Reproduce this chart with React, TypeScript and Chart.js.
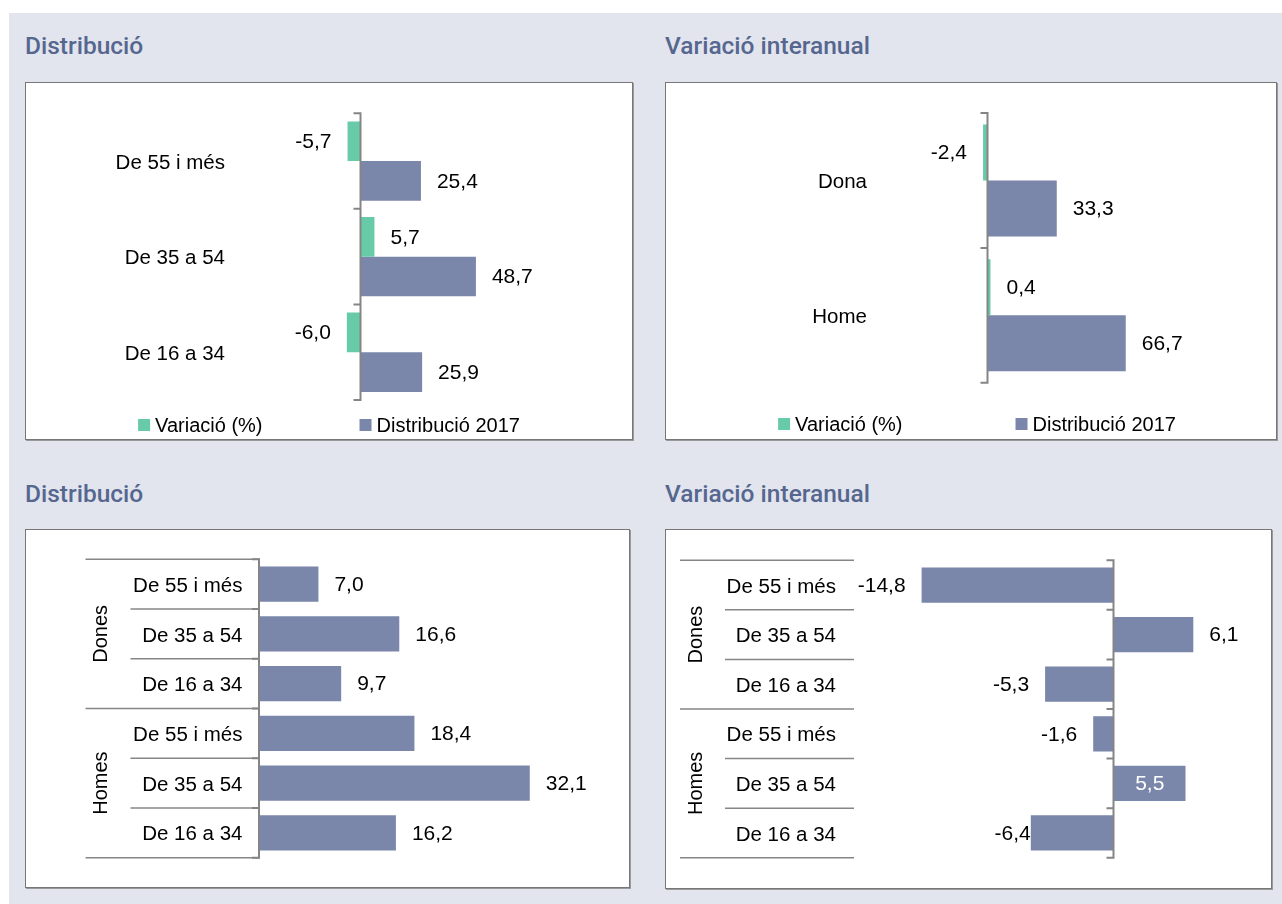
import React, { useEffect, useRef } from 'react';
import { Chart, registerables } from 'chart.js';

Chart.register(...registerables);

// ---------- data ----------
const seriesNames = ['Variació (%)', 'Distribució 2017'];

const ageCategories = ['De 55 i més', 'De 35 a 54', 'De 16 a 34'];
const ageVariacio = [-5.7, 5.7, -6.0];
const ageDistribucio = [25.4, 48.7, 25.9];

const sexCategories = ['Dona', 'Home'];
const sexVariacio = [-2.4, 0.4];
const sexDistribucio = [33.3, 66.7];

const groupNames = ['Dones', 'Homes'];
const groupSubCategories = ['De 55 i més', 'De 35 a 54', 'De 16 a 34', 'De 55 i més', 'De 35 a 54', 'De 16 a 34'];
const groupDistribucio = [7.0, 16.6, 9.7, 18.4, 32.1, 16.2];
const groupVariacio = [-14.8, 6.1, -5.3, -1.6, 5.5, -6.4];
const groupVariacioLabelModes = ['out', 'out', 'out', 'out', 'in', 'edge'];

// ---------- styles ----------
const FONT = '"Liberation Sans", Arial, sans-serif';
const GREEN = '#68cba8';
const SLATE = '#7a86aa';
const AXIS = '#858585';
const TABLE_LINE = '#868686';
const BG = '#e2e5ee';
const TITLE_COLOR = '#56678f';

type DS = { label: string; data: number[]; color: string };
type PanelCfg = {
  labels: string[];
  datasets: DS[];
  min: number;
  max: number;
  pad: { top: number; right: number; bottom: number };
  axisWidth: number;
  tickPadding: number;
  catPct: number;
  groups?: string[];
  groupSize?: number;
  modes?: string[];
  legend?: { y: number; gap: number; shift: number };
};

function fmt(v: number) {
  return v.toFixed(1).replace('.', ',');
}

function decorPlugin(cfg: PanelCfg) {
  return {
    id: 'decor',
    afterDatasetsDraw(chart: any) {
      const ctx = chart.ctx as CanvasRenderingContext2D;
      const xs = chart.scales.x;
      const ys = chart.scales.y;
      const n = chart.data.labels.length;
      const band = (ys.bottom - ys.top) / n;
      const left = chart.chartArea.left;
      ctx.save();
      ctx.lineCap = 'butt';

      if (cfg.groups) {
        const gs = cfg.groupSize || 3;
        ctx.strokeStyle = TABLE_LINE;
        ctx.lineWidth = 1.5;
        for (let k = 0; k <= n; k++) {
          const yy = ys.top + k * band;
          const start = left - (k % gs === 0 ? 174 : 129);
          ctx.beginPath();
          ctx.moveTo(start, yy);
          ctx.lineTo(left, yy);
          ctx.stroke();
        }
        ctx.fillStyle = '#000';
        ctx.font = `20px ${FONT}`;
        ctx.textAlign = 'center';
        ctx.textBaseline = 'middle';
        cfg.groups.forEach((g, gi) => {
          const cy = ys.top + (gi * gs + gs / 2) * band;
          ctx.save();
          ctx.translate(left - 158, cy);
          ctx.rotate(-Math.PI / 2);
          ctx.fillText(g, 0, 0);
          ctx.restore();
        });
      }

      // zero axis with ticks at category boundaries
      const x0 = xs.getPixelForValue(0) - 0.5;
      ctx.strokeStyle = AXIS;
      ctx.lineWidth = 2;
      ctx.beginPath();
      ctx.moveTo(x0, ys.top - 1);
      ctx.lineTo(x0, ys.bottom + 1);
      for (let k = 0; k <= n; k++) {
        const yy = ys.top + k * band;
        ctx.moveTo(x0 - 7, yy);
        ctx.lineTo(x0, yy);
      }
      ctx.stroke();

      // value labels
      ctx.font = `21px ${FONT}`;
      ctx.textBaseline = 'middle';
      chart.data.datasets.forEach((ds: any, di: number) => {
        const meta = chart.getDatasetMeta(di);
        meta.data.forEach((bar: any, i: number) => {
          const v = ds.data[i] as number;
          const mode = cfg.modes ? cfg.modes[i] : 'out';
          const p = bar.getProps(['x', 'base', 'y'], true);
          let tx: number;
          let align: CanvasTextAlign;
          let color = '#000';
          if (mode === 'in') {
            tx = (p.x + p.base) / 2;
            align = 'center';
            color = '#ffffff';
          } else if (mode === 'edge') {
            tx = p.x;
            align = v < 0 ? 'right' : 'left';
          } else {
            tx = v < 0 ? p.x - 16 : p.x + 16;
            align = v < 0 ? 'right' : 'left';
          }
          ctx.fillStyle = color;
          ctx.textAlign = align;
          ctx.fillText(fmt(v), tx, p.y + 1);
        });
      });

      // legend
      if (cfg.legend) {
        const lg = cfg.legend;
        ctx.font = `20px ${FONT}`;
        ctx.textBaseline = 'middle';
        ctx.textAlign = 'left';
        const items = chart.data.datasets.map((ds: any) => ({
          label: ds.label as string,
          color: ds.backgroundColor as string,
          w: 12 + 5 + ctx.measureText(ds.label).width,
        }));
        const total = items.reduce((s: number, it: any) => s + it.w, 0) + lg.gap * (items.length - 1);
        let x = chart.width / 2 - total / 2 + lg.shift;
        items.forEach((it: any) => {
          ctx.fillStyle = it.color;
          ctx.fillRect(x, lg.y - 6, 12, 12);
          ctx.fillStyle = '#000';
          ctx.fillText(it.label, x + 17, lg.y + 1);
          x += it.w + lg.gap;
        });
      }
      ctx.restore();
    },
  };
}

function ChartBox(props: { left: number; top: number; w: number; h: number; cfg: PanelCfg }) {
  const ref = useRef<HTMLCanvasElement | null>(null);
  const { left, top, w, h, cfg } = props;
  useEffect(() => {
    if (!ref.current) return;
    const chart = new Chart(ref.current, {
      type: 'bar',
      data: {
        labels: cfg.labels,
        datasets: cfg.datasets.map((d) => ({
          label: d.label,
          data: d.data,
          backgroundColor: d.color,
          borderWidth: 0,
          categoryPercentage: cfg.catPct,
          barPercentage: 1,
          minBarLength: 2.5,
        })),
      },
      options: {
        indexAxis: 'y',
        responsive: false,
        animation: false,
        devicePixelRatio: 1,
        layout: { padding: { left: 0, top: cfg.pad.top, right: cfg.pad.right, bottom: cfg.pad.bottom } },
        plugins: {
          legend: { display: false },
          tooltip: { enabled: false },
        },
        scales: {
          x: { display: false, min: cfg.min, max: cfg.max },
          y: {
            position: 'left',
            grid: { display: false, drawTicks: false },
            border: { display: false },
            ticks: {
              padding: cfg.tickPadding,
              labelOffset: 2,
              color: '#000',
              autoSkip: false,
              crossAlign: 'near',
              font: { family: FONT, size: 20.5 },
            },
            afterFit: (s: any) => {
              s.width = cfg.axisWidth;
            },
          },
        },
      } as any,
      plugins: [decorPlugin(cfg)],
    });
    return () => chart.destroy();
  }, []);
  return (
    <div
      style={{
        position: 'absolute',
        left,
        top,
        width: w,
        height: h,
        boxSizing: 'border-box',
        background: '#fff',
        border: '1px solid #777',
        boxShadow: '1px 1px 0 #9a9a9a',
      }}
    >
      <canvas ref={ref} width={w - 2} height={h - 2} style={{ display: 'block', width: w - 2, height: h - 2 }} />
    </div>
  );
}

const titleStyle = (left: number, top: number): React.CSSProperties => ({
  position: 'absolute',
  left,
  top,
  margin: 0,
  fontFamily: 'Roboto, "Liberation Sans", sans-serif',
  fontWeight: 500,
  fontSize: 24.5,
  lineHeight: '25px',
  color: TITLE_COLOR,
  whiteSpace: 'nowrap',
});

export default function App() {
  const tl: PanelCfg = {
    labels: ageCategories,
    datasets: [
      { label: seriesNames[0], data: ageVariacio, color: GREEN },
      { label: seriesNames[1], data: ageDistribucio, color: SLATE },
    ],
    min: -50,
    max: 100,
    pad: { top: 29, right: 35, bottom: 39 },
    axisWidth: 217,
    tickPadding: 18,
    catPct: 0.83,
    legend: { y: 342, gap: 97, shift: 0 },
  };
  const tr: PanelCfg = {
    labels: sexCategories,
    datasets: [
      { label: seriesNames[0], data: sexVariacio, color: GREEN },
      { label: seriesNames[1], data: sexDistribucio, color: SLATE },
    ],
    min: -50,
    max: 100,
    pad: { top: 29, right: 81.5, bottom: 56.3 },
    axisWidth: 218.75,
    tickPadding: 17.75,
    catPct: 0.83,
    legend: { y: 341, gap: 113, shift: 6 },
  };
  const bl: PanelCfg = {
    labels: groupSubCategories,
    datasets: [{ label: seriesNames[1], data: groupDistribucio, color: SLATE }],
    min: 0,
    max: 40,
    pad: { top: 28, right: 32.7, bottom: 29 },
    axisWidth: 233.5,
    tickPadding: 17,
    catPct: 0.71,
    groups: groupNames,
    groupSize: 3,
  };
  const br: PanelCfg = {
    labels: groupSubCategories,
    datasets: [{ label: seriesNames[0], data: groupVariacio, color: SLATE }],
    min: -20,
    max: 10,
    pad: { top: 29, right: 27, bottom: 29 },
    axisWidth: 188,
    tickPadding: 18,
    catPct: 0.71,
    groups: groupNames,
    groupSize: 3,
    modes: groupVariacioLabelModes,
  };

  return (
    <div style={{ position: 'absolute', left: 0, top: 0, width: 1282, height: 904, overflow: 'hidden', background: '#fff' }}>
      <div style={{ position: 'absolute', left: 9, top: 13, right: 0, bottom: 0, background: BG }} />
      <div style={titleStyle(25, 33)}>Distribució</div>
      <div style={titleStyle(665, 33)}>Variació interanual</div>
      <div style={titleStyle(25, 481)}>Distribució</div>
      <div style={titleStyle(665, 481)}>Variació interanual</div>
      <ChartBox left={25} top={82} w={608} h={358} cfg={tl} />
      <ChartBox left={665} top={82} w={612} h={358} cfg={tr} />
      <ChartBox left={25} top={529} w={605} h={359} cfg={bl} />
      <ChartBox left={665} top={529} w={607} h={360} cfg={br} />
    </div>
  );
}
